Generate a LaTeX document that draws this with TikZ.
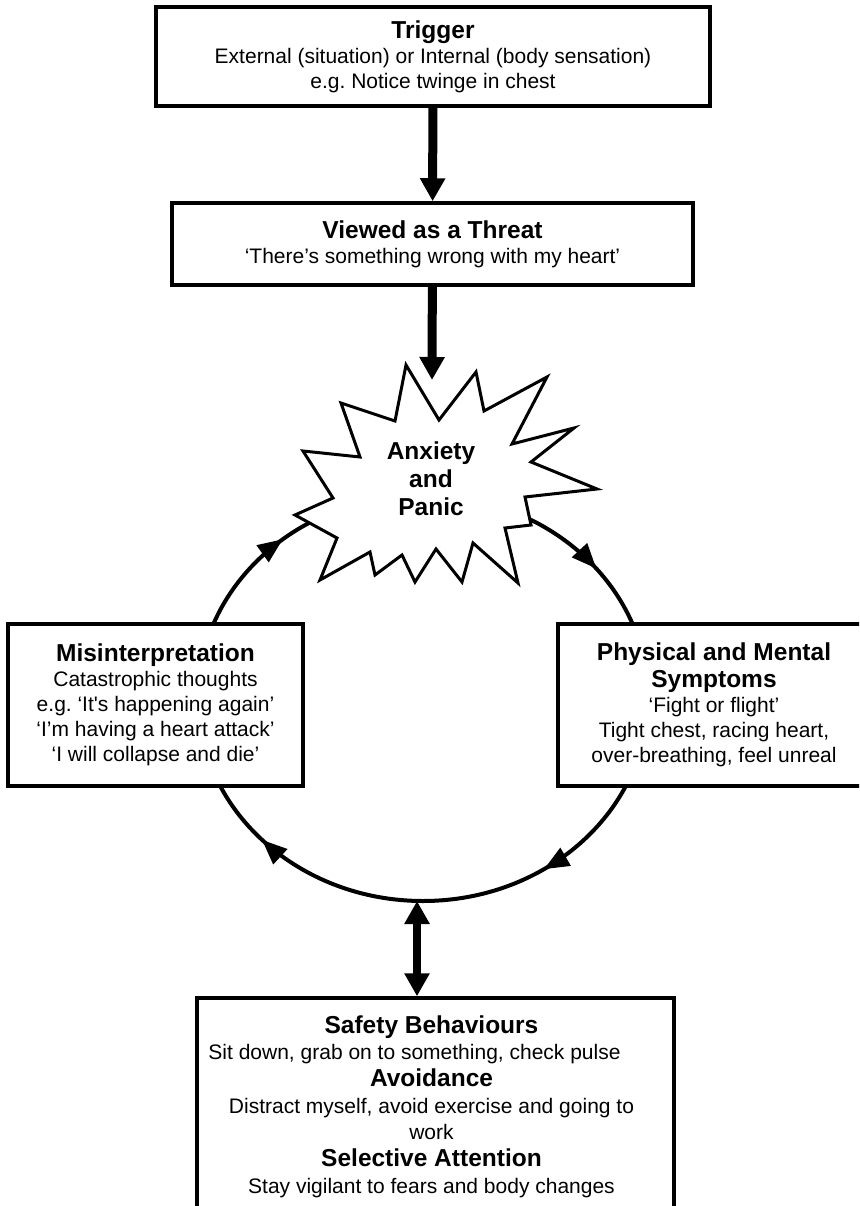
\documentclass[tikz,border=0pt]{standalone}
\usepackage{fontspec}
\setmainfont{Liberation Sans}
\usetikzlibrary{arrows.meta,decorations.markings}
\frenchspacing

\newcommand{\hd}[1]{{\fontsize{24.5}{27}\selectfont\bfseries #1}}

\tikzset{
  stagebox/.style={rectangle, draw, line width=3.5pt, fill=white, align=center, inner sep=0pt, font=\fontsize{21}{25}\selectfont},
  bigarrow/.style={line width=9pt, -{Triangle[width=24pt,length=23pt]}},
  dblarrow/.style={line width=8pt, {Triangle[width=24pt,length=23pt]}-{Triangle[width=24pt,length=23pt]}},
  cycleline/.style={line width=4pt, postaction={decorate},
    decoration={markings,
      mark=at position 0.156 with {\arrow{Triangle[width=20pt,length=25pt]}},
      mark=at position 0.381 with {\arrow{Triangle[width=20pt,length=25pt]}},
      mark=at position 0.639 with {\arrow{Triangle[width=20pt,length=25pt]}},
      mark=at position 0.894 with {\arrow{Triangle[width=20pt,length=25pt]}}}},
  burstline/.style={line width=3pt, fill=white, line join=miter}
}

\begin{document}
\begin{tikzpicture}[x=1pt, y=-1pt]
  \useasboundingbox (0,0) rectangle (859,1206);
  \clip (0,0) rectangle (859,1206);
  % Loop
  \draw[cycleline] (423,698) ellipse [x radius=225, y radius=203];
  \coordinate (loopbot) at (417,901);
  % Burst
  \draw[burstline] (406,365) -- (439,420) -- (476,372) -- (484,411) -- (547,377) -- (512,444)
    -- (574,428) -- (531,462) -- (597,489) -- (525,497) -- (531,525) -- (505,528) -- (518,583)
    -- (473,543) -- (462,582) -- (436,549) -- (415,582) -- (402,555) -- (375,575) -- (370,552)
    -- (320,580) -- (337,538) -- (295,515) -- (333,498) -- (303,451) -- (360,457) -- (341,403)
    -- (395,421) -- cycle;
  \node (panic) [font=\fontsize{24.5}{28}\selectfont\bfseries, align=center] at (431,479) {Anxiety\\and\\Panic};
  \coordinate (bursttip) at (432,380);
  % Nodes
  \node (trigger) [stagebox, minimum width=554pt, minimum height=99pt] at (433,56.5)
    {\hd{Trigger}\\External (situation) or Internal (body sensation)\\e.g. Notice twinge in chest};
  \node (threat) [stagebox, minimum width=521pt, minimum height=82pt] at (432.5,244)
    {\hd{Viewed as a Threat}\\‘There’s something wrong with my heart’};
  \node (misinterp) [stagebox, minimum width=295pt, minimum height=162pt] at (155.5,705)
    {\hd{Misinterpretation}\\Catastrophic thoughts\\e.g. ‘It\textquotesingle s happening again’\\‘I’m having a heart attack’\\‘I will collapse and die’};
  \node (symptoms) [stagebox, minimum width=312pt, minimum height=162pt] at (714,705)
    {\hd{Physical and Mental}\\[2pt]\hd{Symptoms}\\‘Fight or flight’\\Tight chest, racing heart,\\over-breathing, feel unreal};
  \node (safety) [stagebox, minimum width=477pt, minimum height=217pt, font=\fontsize{21}{26.7}\selectfont] at (435.5,1106.5)
    {\hd{Safety Behaviours}\hspace*{8pt}\null\\Sit down, grab on to something, check pulse\hspace*{42pt}\null\\\hd{Avoidance}\hspace*{8pt}\null\\Distract myself, avoid exercise and going to\hspace*{8pt}\null\\work\hspace*{8pt}\null\\\hd{Selective Attention}\hspace*{8pt}\null\\Stay vigilant to fears and body changes\hspace*{8pt}\null};
  % Arrows
  \draw[bigarrow] (trigger) -- (threat);
  \draw[bigarrow] (threat) -- (bursttip);
  \draw[dblarrow] (loopbot) -- (safety.north -| loopbot);
\end{tikzpicture}
\end{document}
